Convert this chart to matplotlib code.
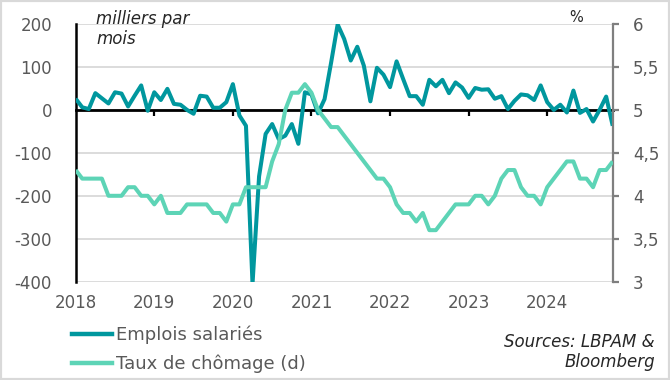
import matplotlib
matplotlib.use("Agg")
import matplotlib.pyplot as plt
from matplotlib.lines import Line2D
from matplotlib.patches import Rectangle

plt.rcParams['font.family'] = ['DejaVu Sans']

# ---- data (monthly, Jan 2018 .. Nov 2024) ----
emplois = [
    26, 6, 2, 39, 27, 15, 41, 38, 8, 33, 57, -2,          # 2018
    41, 23, 49, 14, 12, 0, -9, 33, 31, 5, 5, 18,          # 2019
    60, -13, -37, -405, -155, -56, -33, -68, -60, -33, -79, 41,  # 2020
    36, -8, 25, 110, 199, 165, 115, 147, 103, 20, 98, 82,  # 2021
    53, 113, 72, 32, 32, 12, 70, 55, 70, 39, 64, 52,      # 2022
    28, 51, 47, 48, 26, 32, 2, 21, 36, 34, 23, 57,        # 2023
    18, 0, 12, -6, 45, -7, 2, -27, 0, 31, -37,            # 2024
]
chomage = [
    4.3, 4.2, 4.2, 4.2, 4.2, 4.0, 4.0, 4.0, 4.1, 4.1, 4.0, 4.0,
    3.9, 4.0, 3.8, 3.8, 3.8, 3.9, 3.9, 3.9, 3.9, 3.8, 3.8, 3.7,
    3.9, 3.9, 4.1, 4.1, 4.1, 4.1, 4.4, 4.6, 5.0, 5.2, 5.2, 5.3,
    5.2, 5.0, 4.9, 4.8, 4.8, 4.7, 4.6, 4.5, 4.4, 4.3, 4.2, 4.2,
    4.1, 3.9, 3.8, 3.8, 3.7, 3.8, 3.6, 3.6, 3.7, 3.8, 3.9, 3.9,
    3.9, 4.0, 4.0, 3.9, 4.0, 4.2, 4.3, 4.3, 4.1, 4.0, 4.0, 3.9,
    4.1, 4.2, 4.3, 4.4, 4.4, 4.2, 4.2, 4.1, 4.3, 4.3, 4.4,
]
years = ["2018", "2019", "2020", "2021", "2022", "2023", "2024"]
left_ticks = [-400, -300, -200, -100, 0, 100, 200]
right_ticks = [3, 3.5, 4, 4.5, 5, 5.5, 6]
right_labels = ["3", "3,5", "4", "4,5", "5", "5,5", "6"]
series_names = ["Emplois salariés", "Taux de chômage (d)"]

DARK = "#00979E"
LIGHT = "#5DD4B6"
GRID = "#D9D9D9"
TXT = "#595959"

W, H = 670, 380
fig = plt.figure(figsize=(W / 100, H / 100), dpi=100)
L, R, T, B = 75.7, 612.7, 24.0, 281.7
ax = fig.add_axes([L / W, 1 - B / H, (R - L) / W, (B - T) / H])
ax2 = ax.twinx()

months = list(range(len(emplois)))
ax.plot(months, emplois, color=DARK, lw=2.9, solid_joinstyle='round',
        solid_capstyle='butt', zorder=3)
ax2.plot(list(range(len(chomage))), chomage, color=LIGHT, lw=2.9,
         solid_joinstyle='round', solid_capstyle='butt', zorder=3)

ax.set_xlim(0, 82)
ax.set_ylim(-400, 200)
ax2.set_ylim(3, 6)

# grid
ax.set_yticks(left_ticks)
ax.set_yticklabels([str(v) for v in left_ticks])
ax.grid(axis='y', color=GRID, lw=1.3, zorder=0)
ax.set_axisbelow(True)
ax.tick_params(axis='y', length=0, pad=17, labelsize=12, labelcolor=TXT)

# spines
for s in ['top', 'right']:
    ax.spines[s].set_visible(False)
ax.spines['left'].set_color('black')
ax.spines['left'].set_linewidth(1.8)
ax.spines['bottom'].set_position(('data', 0))
ax.spines['bottom'].set_color('black')
ax.spines['bottom'].set_linewidth(2.0)
ax.set_xticks([12, 24, 36, 48, 60, 72])
ax.tick_params(axis='x', direction='out', length=4.5, width=1.6,
               color='black', labelbottom=False)

for s in ['top', 'left', 'bottom']:
    ax2.spines[s].set_visible(False)
ax2.spines['right'].set_color('#7F7F7F')
ax2.spines['right'].set_linewidth(1.6)
ax2.set_yticks(right_ticks)
ax2.set_yticklabels(right_labels)
ax2.tick_params(axis='y', direction='out', length=4.5, width=1.6,
                color='#7F7F7F', pad=10, labelsize=12, labelcolor=TXT)

# year labels at the bottom
xtr = ax.get_xaxis_transform()
for i, y in enumerate(years):
    ax.text(i * 12, (B - 303) / (B - T), y, transform=xtr, ha='center',
            va='center', fontsize=12, color=TXT)

# unit labels
fig.text(96 / W, 1 - 29 / H, "milliers par\nmois", ha='left', va='center',
         fontsize=12, style='italic', color='#262626', linespacing=1.1)
fig.text(576 / W, 1 - 18 / H, "%", ha='center', va='center',
         fontsize=10.5, color='#262626')

# legend
handles = [Line2D([], [], color=DARK, lw=3.2), Line2D([], [], color=LIGHT, lw=3.2)]
fig.legend(handles, series_names, loc='upper left',
           bbox_to_anchor=(72 / W, 1 - 326 / H), frameon=False,
           fontsize=13, handlelength=2.2, handletextpad=0.25, borderpad=0,
           borderaxespad=0, labelspacing=0.55, labelcolor=TXT)

fig.text(655 / W, 1 - 352 / H, "Sources: LBPAM &\nBloomberg", ha='right',
         va='center', fontsize=12, style='italic', color='#262626',
         linespacing=1.15)

fig.patches.append(Rectangle((0, 0), 1, 1, transform=fig.transFigure,
                             fill=False, ec=GRID, lw=3, zorder=10))

fig.savefig("out.png", dpi=100, facecolor='white')
